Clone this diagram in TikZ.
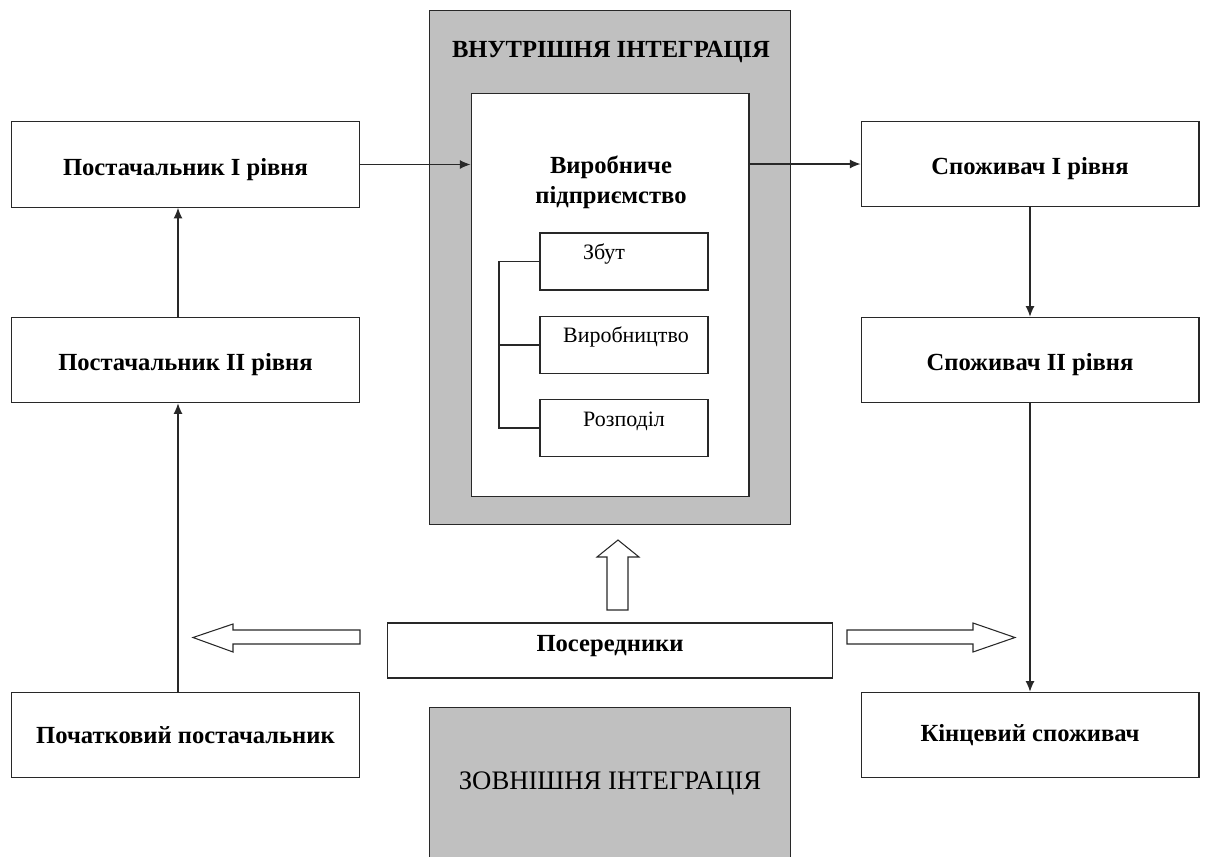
\documentclass[tikz,border=0pt]{standalone}
\usepackage{fontspec}
\setmainfont{Liberation Serif}
\usetikzlibrary{arrows.meta}
\definecolor{panelgray}{RGB}{192,192,192}
\definecolor{edge}{RGB}{40,40,40}
\newcommand{\lowered}[1]{\raisebox{-2.8pt}[\height][\depth]{#1}}
\tikzset{
  box/.style={draw=edge, line width=0.6pt, fill=white, inner sep=0pt,
    font=\fontsize{14}{16}\selectfont\bfseries},
  sidebox/.style={box, minimum width=6.98cm, minimum height=1.71cm},
  rightbox/.style={box, minimum width=6.76cm, minimum height=1.71cm},
  subbox/.style={draw=edge, line width=0.6pt, fill=white, minimum width=3.36cm, minimum height=1.14cm, inner sep=0pt},
  subtext/.style={font=\fontsize{12.5}{14}\selectfont},
  panel/.style={draw=edge, line width=0.6pt, fill=panelgray},
  arr/.style={draw=edge, line width=0.6pt, -{Latex[length=6pt,width=5pt]}},
  link/.style={draw=edge, line width=0.6pt},
  blockarrow/.style={draw=edge, line width=0.6pt, fill=white, line join=miter}
}
\begin{document}
\begin{tikzpicture}[x=0.02cm, y=-0.02cm]
\useasboundingbox (0,0) rectangle (1211,856);

% internal integration panel with the enterprise inside
\node[panel, minimum width=7.24cm, minimum height=10.3cm] (inner) at (610,267.5) {};
\node[font=\fontsize{14}{16}\selectfont\bfseries] (innertitle) at (611,52) {ВНУТРІШНЯ ІНТЕГРАЦІЯ};
\node[draw=edge, line width=0.6pt, fill=white, minimum width=5.56cm, minimum height=8.08cm] (firm) at (610,295) {};
\node[font=\fontsize{14}{17}\selectfont\bfseries, align=center] (firmtitle) at (611,182) {Виробниче\\підприємство};

% functional units of the enterprise
\node[subbox] (sales) at (624,261.5) {};
\node[subtext] (salest) at (604,254) {Збут};
\node[subbox] (prod) at (624,345) {};
\node[subtext] (prodt) at (626,337) {Виробництво};
\node[subbox] (dist) at (624,428) {};
\node[subtext] (distt) at (624,421) {Розподіл};
\coordinate (brtop) at (499,261.5);
\coordinate (brbot) at (499,428);
\draw[link] (sales.west) -- (brtop) -- (brbot) -- (dist.west);
\draw[link] (prod.west) -- (prod.west -| brtop);

% supply side
\node[sidebox] (s1) at (185.5,164.5) {\lowered{Постачальник І рівня}};
\node[sidebox] (s2) at (185.5,360) {\lowered{Постачальник ІІ рівня}};
\node[sidebox] (s0) at (185.5,735) {Початковий постачальник};

% consumer side
\node[rightbox] (c1) at (1030,164) {\lowered{Споживач І рівня}};
\node[rightbox] (c2) at (1030,360) {\lowered{Споживач ІІ рівня}};
\node[rightbox] (c0) at (1030,735) {Кінцевий споживач};

% intermediaries
\node[box, minimum width=8.92cm, minimum height=1.1cm] (mid) at (610,650.5) {};
\node[font=\fontsize{14}{16}\selectfont\bfseries] (midt) at (610,646.5) {Посередники};

% external integration panel
\node[panel, minimum width=7.24cm, minimum height=3.04cm, anchor=north] (outer) at (610,707) {};
\node[font=\fontsize{15.2}{17}\selectfont] (outert) at (610,783) {ЗОВНІШНЯ ІНТЕГРАЦІЯ};

% material flow
\draw[arr] (s1.east) -- (s1.east -| firm.west);
\draw[arr] (firm.east |- c1.west) -- (c1.west);
\draw[arr] ([xshift=-0.15cm]s2.north) -- ([xshift=-0.15cm]s1.south);
\draw[arr] ([xshift=-0.15cm]s0.north) -- ([xshift=-0.15cm]s2.south);
\draw[arr] (c1.south) -- (c2.north);
\draw[arr] (c2.south) -- (c0.north);

% hollow block arrows from the intermediaries
\draw[blockarrow] (360,630) -- (233,630) -- (233,624) -- (193,637.5) -- (233,652) -- (233,644) -- (360,644) -- cycle;
\draw[blockarrow] (847,630) -- (973,630) -- (973,623) -- (1015,637.5) -- (973,652) -- (973,644) -- (847,644) -- cycle;
\draw[blockarrow] (607,610) -- (607,557) -- (597,557) -- (618,540) -- (639,557) -- (628,557) -- (628,610) -- cycle;
\end{tikzpicture}
\end{document}
